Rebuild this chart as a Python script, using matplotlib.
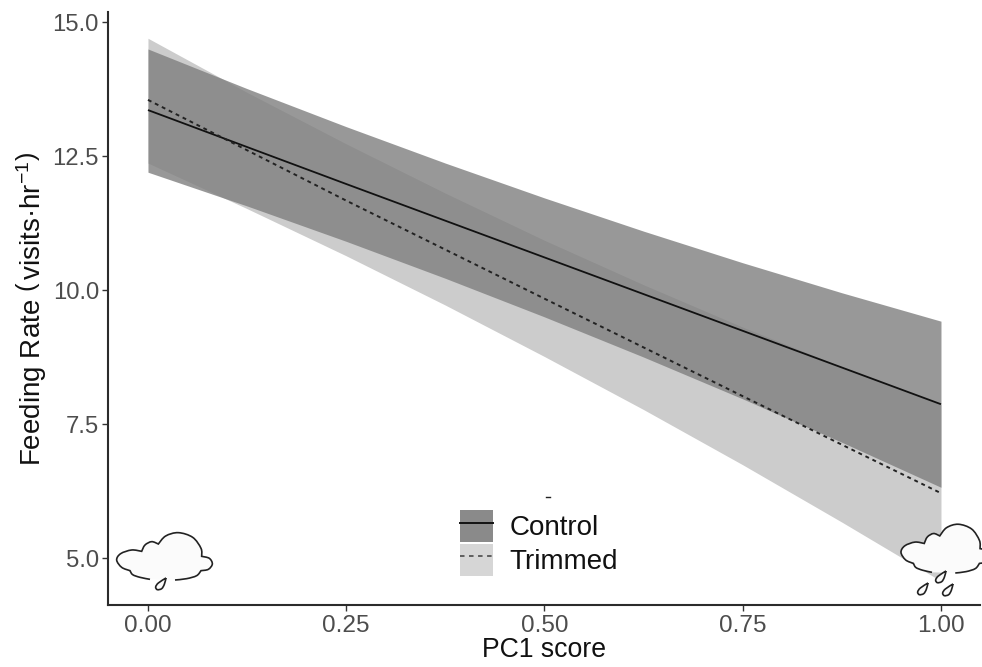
import numpy as np
import matplotlib
matplotlib.use("Agg")
import matplotlib.pyplot as plt
from matplotlib.path import Path
from matplotlib.patches import PathPatch, Patch
from matplotlib.lines import Line2D
from matplotlib.transforms import Affine2D
from matplotlib.legend_handler import HandlerTuple

plt.rcParams['font.family'] = ['Liberation Sans', 'DejaVu Sans']
plt.rcParams['mathtext.fontset'] = 'custom'
plt.rcParams['mathtext.rm'] = 'Liberation Sans'
plt.rcParams['mathtext.it'] = 'Liberation Sans:italic'
plt.rcParams['mathtext.bf'] = 'Liberation Sans:bold'

# Data
pc1 = [0.0, 0.25, 0.5, 0.75, 1.0]
control_fit = [13.36, 11.98, 10.61, 9.24, 7.87]
trimmed_fit = [13.55, 11.67, 9.84, 8.02, 6.21]
band_x = [0.0, 0.125, 0.25, 0.375, 0.5, 0.625, 0.75, 0.875, 1.0]
control_upper = [14.50, 13.76, 13.05, 12.37, 11.72, 11.10, 10.51, 9.95, 9.42]
control_lower = [12.20, 11.57, 10.91, 10.22, 9.50, 8.75, 7.97, 7.16, 6.32]
trimmed_upper = [14.70, 13.69, 12.73, 11.81, 10.93, 10.10, 9.31, 8.57, 7.87]
trimmed_lower = [12.37, 11.52, 10.64, 9.72, 8.76, 7.77, 6.74, 5.67, 4.57]
x_ticks = [0.0, 0.25, 0.5, 0.75, 1.0]
y_ticks = [5.0, 7.5, 10.0, 12.5, 15.0]

W, H = 982, 667
fig = plt.figure(figsize=(W / 100, H / 100), dpi=100, facecolor='white')
ax = fig.add_axes([108 / W, 1 - 605 / H, (980 - 108) / W, (605 - 12) / H])
ax.set_xlim(-0.0504, 1.0492)
ax.set_ylim(4.123, 15.19)

ax.fill_between(band_x, trimmed_lower, trimmed_upper, color='#cccccc', lw=0)
ax.fill_between(band_x, control_lower, control_upper, color='#7f7f7f', alpha=0.8, lw=0)
ax.plot(pc1, control_fit, color='#111111', lw=1.3, solid_capstyle='butt')
ax.plot(pc1, trimmed_fit, color='#222222', lw=1.4, ls=(0, (2.0, 2.0)))

for s in ('top', 'right'):
    ax.spines[s].set_visible(False)
for s in ('left', 'bottom'):
    ax.spines[s].set_linewidth(1.5)
    ax.spines[s].set_color('#2b2b2b')
ax.set_xticks(x_ticks, ['%.2f' % v for v in x_ticks])
ax.set_yticks(y_ticks, ['%.1f' % v for v in y_ticks])
ax.tick_params(axis='x', length=4, width=1.0, color='#333333',
               labelcolor='#4d4d4d', labelsize=17.6, pad=3)
ax.tick_params(axis='y', length=4, width=1.0, color='#333333',
               labelcolor='#4d4d4d', labelsize=17.2, pad=2.5)
ax.set_xlabel('PC1 score', fontsize=19.2, color='#111111', labelpad=0)
ax.set_ylabel('Feeding Rate $\\left(\\,\\mathrm{visits\u00b7hr^{-1}}\\right)$',
              fontsize=20, color='#111111', labelpad=3)

handles = [
    (Patch(facecolor='#8a8a8a', edgecolor='none'), Line2D([], [], color='#111111', lw=1.4)),
    (Patch(facecolor='#d6d6d6', edgecolor='none'), Line2D([], [], color='#555555', lw=1.3, ls=(0, (2.5, 2.5)))),
]
fig.legend(handles, ['Control', 'Trimmed'],
           handler_map={tuple: HandlerTuple(ndivide=1, pad=0)},
           loc='center left', bbox_to_anchor=(441 / W, 1 - 543 / H),
           frameon=False, fontsize=20, handlelength=1.16, handleheight=1.4,
           labelspacing=0.06, handletextpad=0.6, borderpad=0.2, labelcolor='#111111')

# Decorative weather icons, in image pixels
px = Affine2D().scale(1 / W, -1 / H).translate(0, 1) + fig.transFigure

def smooth(points):
    p = np.array(points, float)
    verts = [p[0]]
    codes = [Path.MOVETO]
    n = len(p)
    for i in range(n - 1):
        p0 = p[max(i - 1, 0)]
        p1 = p[i]
        p2 = p[i + 1]
        p3 = p[min(i + 2, n - 1)]
        verts += [p1 + (p2 - p0) / 6, p2 - (p3 - p1) / 6, p2]
        codes += [Path.CURVE4] * 3
    return np.array(verts), codes

cloud_parts = [
    [(150, 298), (120, 292), (98, 284), (90, 272)],
    [(90, 272), (65, 262), (50, 240), (62, 221), (95, 210), (125, 214)],
    [(125, 214), (135, 195), (155, 185), (175, 192)],
    [(175, 192), (197, 168), (235, 158), (278, 172), (303, 205), (305, 229)],
    [(305, 229), (328, 235), (337, 252), (325, 268), (303, 272)],
    [(303, 272), (290, 287), (260, 296), (225, 300)],
]
drop_shape = [(0, 0), (-23, 15), (-31, 27), (-26, 35), (-13, 32), (-5, 19), (0, 0)]

def cloud_path():
    verts, codes = [], []
    for k, part in enumerate(cloud_parts):
        v, c = smooth(part)
        if k:
            v, c = v[1:], c[1:]
        verts.append(v)
        codes += c
    return np.vstack(verts), codes

def draw_cloud(ox, oy, sx, sy, drops):
    v, c = cloud_path()
    v = v * [sx / 3, sy / 3] + [ox, oy]
    closed = Path(np.vstack([v, v[0]]), c + [Path.LINETO])
    fig.add_artist(PathPatch(closed, transform=px, facecolor='#fbfbfb', edgecolor='none', zorder=5))
    fig.add_artist(PathPatch(Path(v, c), transform=px, facecolor='none', edgecolor='#222222', lw=1.2, zorder=6))
    for dx, dy in drops:
        dv, dc = smooth(drop_shape)
        dv = dv / 3 + [dx, dy]
        fig.add_artist(PathPatch(Path(dv, dc), transform=px, facecolor='#fbfbfb', edgecolor='#222222', lw=1.2, zorder=6))

draw_cloud(100, 480, 1.0, 1.0, [(166, 578)])
draw_cloud(885.5, 470, 0.93, 1.03, [(946, 571), (928, 583), (953, 584)])

fig.add_artist(Line2D([546 / W, 550 / W], [1 - 497 / H] * 2, color='#222222', lw=1.0))

fig.savefig('out.png', dpi=100)
